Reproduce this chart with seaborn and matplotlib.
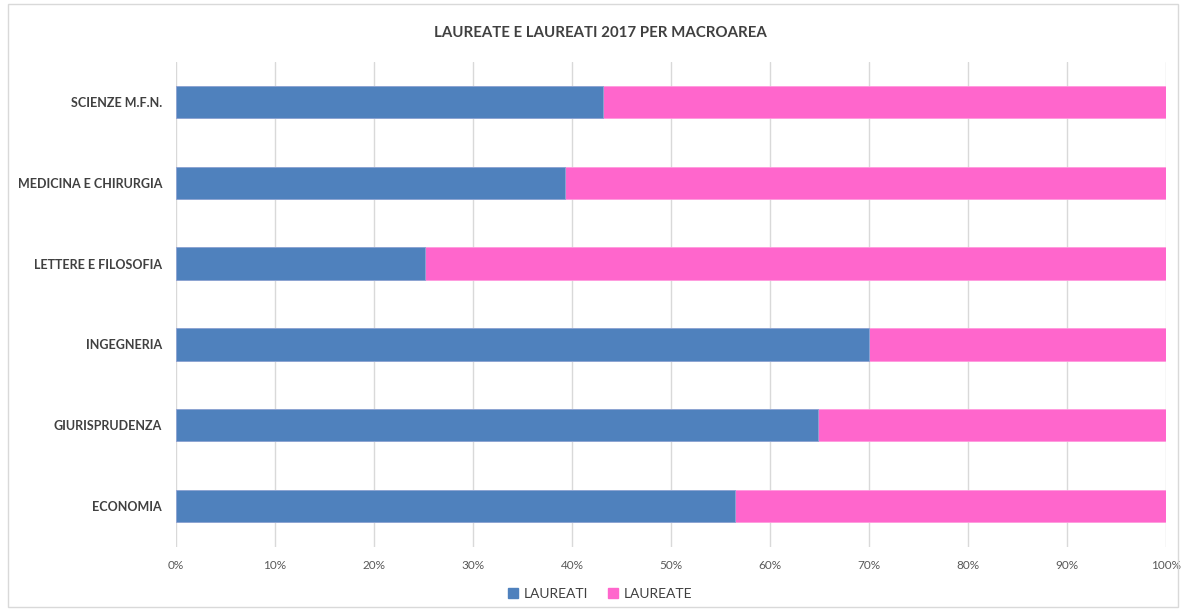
import matplotlib
matplotlib.use("Agg")
import matplotlib.pyplot as plt
import matplotlib.patches as mpatches
from matplotlib.ticker import FuncFormatter
import seaborn as sns
import pandas as pd

categories = ["SCIENZE M.F.N.", "MEDICINA E CHIRURGIA", "LETTERE E FILOSOFIA",
              "INGEGNERIA", "GIURISPRUDENZA", "ECONOMIA"]
laureati = [43.1, 39.3, 25.2, 70.0, 64.8, 56.5]
laureate = [56.9, 60.7, 74.8, 30.0, 35.2, 43.5]
x_ticks = [0, 10, 20, 30, 40, 50, 60, 70, 80, 90, 100]

blue = "#4F81BD"
pink = "#FF66CC"
text_dark = "#404040"
text_mid = "#595959"

df = pd.DataFrame({
    "area": categories,
    "laureati": laureati,
    "totale": [a + b for a, b in zip(laureati, laureate)],
})

sns.set_style("white")
plt.rcParams["font.family"] = ["Lato", "DejaVu Sans"]

fig = plt.figure(figsize=(11.86, 6.11), dpi=100)
ax = fig.add_axes([176 / 1186, 1 - 546.5 / 611, 990 / 1186, 485 / 611])

# stacked bars: full width in pink, blue share drawn on top
sns.barplot(data=df, y="area", x="totale", color=pink, width=0.4,
            edgecolor="#FF9ADD", linewidth=0.6, ax=ax, zorder=3, saturation=1)
sns.barplot(data=df, y="area", x="laureati", color=blue, width=0.4,
            edgecolor="#8AAAD4", linewidth=0.6, ax=ax, zorder=4, saturation=1)

ax.set_xlim(0, 100)
ax.set_ylim(5.5, -0.5)
ax.set_xticks(x_ticks)
ax.xaxis.set_major_formatter(FuncFormatter(lambda v, p: f"{v:.0f}%"))
ax.grid(axis="x", color="#D9D9D9", linewidth=1, zorder=0)
ax.set_axisbelow(True)
for s in ax.spines.values():
    s.set_visible(False)
ax.set_xlabel("")
ax.set_ylabel("")
ax.tick_params(axis="x", length=0, pad=10, labelsize=8.5, labelcolor=text_mid)
ax.tick_params(axis="y", length=0, pad=10, labelsize=9, labelcolor=text_dark)
for lbl in ax.get_yticklabels():
    lbl.set_fontweight("bold")

fig.text(0.506, 1 - 33 / 611, "LAUREATE E LAUREATI 2017 PER MACROAREA",
         ha="center", va="center", fontsize=10.8, fontweight="bold", color=text_dark)

handles = [mpatches.Patch(color=blue, label="LAUREATI"),
           mpatches.Patch(color=pink, label="LAUREATE")]
fig.legend(handles=handles, loc="center", bbox_to_anchor=(0.506, 1 - 594 / 611),
           ncol=2, frameon=False, fontsize=10, handlelength=0.7, handleheight=0.7,
           handletextpad=0.4, columnspacing=1.5, labelcolor=text_dark)

fig.patches.append(mpatches.Rectangle((8 / 1186, 4 / 611), 1170 / 1186, 603 / 611,
                                      transform=fig.transFigure, fill=False,
                                      edgecolor="#D9D9D9", linewidth=1))

fig.savefig("out.png", dpi=100, facecolor="white")
